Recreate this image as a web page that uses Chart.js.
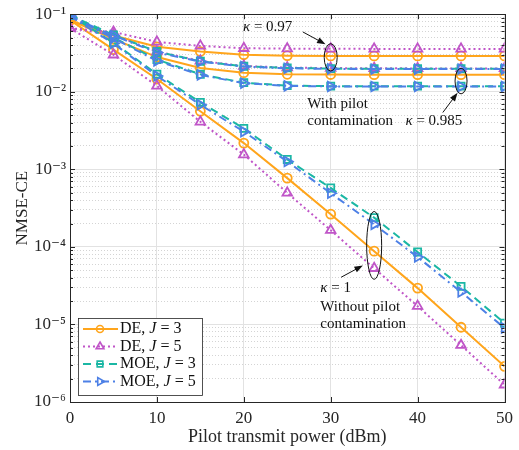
<!DOCTYPE html>
<html>
<head>
<meta charset="utf-8">
<script src="https://cdn.jsdelivr.net/npm/chart.js@4/dist/chart.umd.min.js"></script>
<style>
    body { margin: 0; background: #fff; }
    #wrap { width: 519px; height: 450px; }
</style>
</head>
<body>
<div id="wrap"><canvas id="grafico-nmse" width="519" height="450"></canvas></div>
<script>
// Eixo x - potencia do piloto (dBm)
const potencia = [0, 5, 10, 15, 20, 25, 30, 35, 40, 45, 50];
const ticksX = [0, 10, 20, 30, 40, 50];
const rotulosY = ['10⁻⁶', '10⁻⁵', '10⁻⁴', '10⁻³', '10⁻²', '10⁻¹'];

// kappa = 1 (sem contaminacao de piloto)
const de3K1 = [0.084, 0.035, 0.0146, 0.0056, 0.00218, 0.00077, 0.000264, 0.000088, 0.0000294, 0.0000092, 0.00000288];
const de5K1 = [0.066, 0.030, 0.0119, 0.0041, 0.00155, 0.000497, 0.000164, 0.000053, 0.0000172, 0.0000054, 0.00000167];
const moe3K1 = [0.097, 0.043, 0.0169, 0.0073, 0.00337, 0.00134, 0.000575, 0.000238, 0.000086, 0.0000309, 0.0000104];
const moe5K1 = [0.094, 0.042, 0.0160, 0.0068, 0.00306, 0.00126, 0.000492, 0.000195, 0.000074, 0.0000262, 0.0000090];

// kappa = 0.985
const de3K985 = [0.084, 0.048, 0.028, 0.0203, 0.0176, 0.0168, 0.0167, 0.0166, 0.0166, 0.0166, 0.0166];
const de5K985 = [0.066, 0.054, 0.033, 0.025, 0.0215, 0.0205, 0.0202, 0.0201, 0.0200, 0.0200, 0.0200];
const moe3K985 = [0.097, 0.050, 0.026, 0.0168, 0.0131, 0.0120, 0.0118, 0.0118, 0.0118, 0.0118, 0.0118];
const moe5K985 = [0.094, 0.049, 0.025, 0.0165, 0.0129, 0.0119, 0.0117, 0.0117, 0.0117, 0.0117, 0.0117];

// kappa = 0.97
const de3K97 = [0.084, 0.053, 0.038, 0.033, 0.030, 0.0292, 0.0290, 0.0290, 0.0290, 0.0290, 0.0290];
const de5K97 = [0.066, 0.059, 0.044, 0.039, 0.0364, 0.0360, 0.0358, 0.0357, 0.0357, 0.0357, 0.0357];
const moe3K97 = [0.097, 0.054, 0.033, 0.0247, 0.0213, 0.0203, 0.0199, 0.0198, 0.0198, 0.0198, 0.0198];
const moe5K97 = [0.094, 0.053, 0.032, 0.0245, 0.0211, 0.0201, 0.0197, 0.0196, 0.0196, 0.0196, 0.0196];

// Legenda
const legendaMetodo = ['DE', 'DE', 'MOE', 'MOE'];
const legendaJ = [3, 5, 3, 5];

const fonte = "'Liberation Serif', 'DejaVu Serif', serif";

const estilos = [
    { cor: '#FFA51C', ponto: 'circle', raio: 4.5, rot: 0, traco: [] },
    { cor: '#C055C8', ponto: 'triangle', raio: 5.5, rot: 0, traco: [2, 3] },
    { cor: '#1BB7A4', ponto: 'rect', raio: 5, rot: 0, traco: [8, 5] },
    { cor: '#4D80E6', ponto: 'triangle', raio: 5.5, rot: 90, traco: [8, 4, 2, 4] }
];

function serie(valores, k) {
    const e = estilos[k];
    return {
        data: potencia.map((p, i) => ({ x: p, y: valores[i] })),
        borderColor: e.cor,
        borderWidth: 2,
        borderDash: e.traco,
        pointStyle: e.ponto,
        pointRadius: e.raio,
        pointRotation: e.rot,
        pointBorderWidth: 1.8,
        pointBorderColor: e.cor,
        pointBackgroundColor: 'rgba(255,255,255,0)',
        tension: 0,
        fill: false,
        order: 4 - k
    };
}

function potDez(v) {
    const l = Math.log10(v);
    return Math.abs(l - Math.round(l)) < 1e-9;
}

// texto com partes em italico
function textoRico(ctx, partes, x, y, tam) {
    let cx = x;
    partes.forEach(([t, it]) => {
        ctx.font = (it ? 'italic ' : '') + tam + 'px ' + fonte;
        ctx.fillText(t, cx, y);
        cx += ctx.measureText(t).width;
    });
}

function seta(ctx, x1, y1, x2, y2) {
    const ang = Math.atan2(y2 - y1, x2 - x1);
    ctx.beginPath();
    ctx.moveTo(x1, y1);
    ctx.lineTo(x2 - 6 * Math.cos(ang), y2 - 6 * Math.sin(ang));
    ctx.stroke();
    ctx.beginPath();
    ctx.moveTo(x2, y2);
    ctx.lineTo(x2 - 9 * Math.cos(ang - 0.35), y2 - 9 * Math.sin(ang - 0.35));
    ctx.lineTo(x2 - 9 * Math.cos(ang + 0.35), y2 - 9 * Math.sin(ang + 0.35));
    ctx.closePath();
    ctx.fill();
}

// Caixa, marcas internas, anotacoes e legenda
const extras = {
    id: 'extras',
    afterDatasetsDraw(chart) {
        const { ctx, chartArea: a, scales: { x, y } } = chart;
        ctx.save();
        ctx.strokeStyle = '#262626';
        ctx.lineWidth = 1;
        ctx.setLineDash([]);
        ctx.strokeRect(Math.round(a.left) + 0.5, Math.round(a.top) + 0.5, Math.round(a.right - a.left), Math.round(a.bottom - a.top));

        // marcas internas
        ctx.beginPath();
        y.ticks.forEach(t => {
            const py = Math.round(y.getPixelForValue(t.value)) + 0.5;
            const len = potDez(t.value) ? 5 : 3;
            ctx.moveTo(a.left, py); ctx.lineTo(a.left + len, py);
            ctx.moveTo(a.right, py); ctx.lineTo(a.right - len, py);
        });
        ticksX.forEach(v => {
            const px = Math.round(x.getPixelForValue(v)) + 0.5;
            ctx.moveTo(px, a.bottom); ctx.lineTo(px, a.bottom - 5);
            ctx.moveTo(px, a.top); ctx.lineTo(px, a.top + 5);
        });
        ctx.stroke();

        // anotacoes
        ctx.fillStyle = '#111';
        ctx.strokeStyle = '#111';
        ctx.textBaseline = 'middle';
        ctx.textAlign = 'left';

        const elipse = (xv, y1, y2, rx) => {
            const cx = x.getPixelForValue(xv);
            const p1 = y.getPixelForValue(y1), p2 = y.getPixelForValue(y2);
            ctx.beginPath();
            ctx.ellipse(cx, (p1 + p2) / 2, rx, Math.abs(p2 - p1) / 2, 0, 0, 2 * Math.PI);
            ctx.stroke();
        };
        elipse(30, 0.0417, 0.0185, 6.5);
        elipse(45, 0.0201, 0.0094, 6);
        elipse(35, 2.86e-4, 3.82e-5, 7.5);

        seta(ctx, x.getPixelForValue(26.8), y.getPixelForValue(0.059), x.getPixelForValue(29.4), y.getPixelForValue(0.041));
        seta(ctx, x.getPixelForValue(42.9), y.getPixelForValue(0.0054), x.getPixelForValue(44.6), y.getPixelForValue(0.0097));
        seta(ctx, x.getPixelForValue(31.2), y.getPixelForValue(4.06e-5), x.getPixelForValue(33.7), y.getPixelForValue(5.75e-5));

        textoRico(ctx, [['κ', true], [' = 0.97', false]], x.getPixelForValue(19.9), y.getPixelForValue(0.068), 15);
        textoRico(ctx, [['With pilot', false]], x.getPixelForValue(27.3), y.getPixelForValue(0.0070), 15);
        textoRico(ctx, [['contamination', false]], x.getPixelForValue(27.3), y.getPixelForValue(0.0042), 15);
        textoRico(ctx, [['κ', true], [' = 0.985', false]], x.getPixelForValue(38.6), y.getPixelForValue(0.0042), 15);
        textoRico(ctx, [['κ', true], [' = 1', false]], x.getPixelForValue(28.8), y.getPixelForValue(2.94e-5), 15);
        textoRico(ctx, [['Without pilot', false]], x.getPixelForValue(28.8), y.getPixelForValue(1.69e-5), 15);
        textoRico(ctx, [['contamination', false]], x.getPixelForValue(28.8), y.getPixelForValue(1.0e-5), 15);

        // legenda
        const lx = a.left + 8, ly = a.bottom - 84, lw = 124, lh = 77;
        ctx.fillStyle = '#fff';
        ctx.fillRect(lx, ly, lw, lh);
        ctx.strokeStyle = '#262626';
        ctx.lineWidth = 0.8;
        ctx.strokeRect(lx + 0.5, ly + 0.5, lw, lh);
        estilos.forEach((e, i) => {
            const iy = ly + 11 + i * 17.5;
            ctx.save();
            ctx.strokeStyle = e.cor;
            ctx.lineWidth = 2;
            ctx.setLineDash(e.traco);
            ctx.beginPath();
            ctx.moveTo(lx + 5, iy); ctx.lineTo(lx + 40, iy);
            ctx.stroke();
            ctx.setLineDash([]);
            ctx.lineWidth = 1.6;
            ctx.fillStyle = 'rgba(255,255,255,0)';
            Chart.helpers.drawPoint(ctx, { pointStyle: e.ponto, radius: e.raio - 1, rotation: e.rot, borderWidth: 1.6 }, lx + 22, iy);
            ctx.restore();
            ctx.fillStyle = '#111';
            textoRico(ctx, [[legendaMetodo[i] + ', ', false], ['J', true], [' = ' + legendaJ[i], false]], lx + 42, iy, 16);
        });
        ctx.restore();
    }
};

const dadosNmse = {
    datasets: [
        serie(de3K1, 0), serie(de5K1, 1), serie(moe3K1, 2), serie(moe5K1, 3),
        serie(de3K985, 0), serie(de5K985, 1), serie(moe3K985, 2), serie(moe5K985, 3),
        serie(de3K97, 0), serie(de5K97, 1), serie(moe3K97, 2), serie(moe5K97, 3)
    ]
};

const configNmse = {
    type: 'line',
    data: dadosNmse,
    options: {
        responsive: false,
        animation: false,
        layout: { padding: { top: 7, right: 11, left: 0, bottom: 0 }, autoPadding: false },
        plugins: {
            legend: { display: false },
            tooltip: { enabled: false }
        },
        scales: {
            x: {
                type: 'linear',
                min: 0,
                max: 50,
                afterBuildTicks: (eixo) => { eixo.ticks = ticksX.map(v => ({ value: v })); },
                afterFit: (eixo) => { eixo.height = 48; },
                ticks: { font: { family: fonte, size: 17 }, color: '#262626', padding: 6 },
                grid: { color: '#e2e2e2', lineWidth: 1, drawTicks: false },
                border: { color: '#262626', width: 1 },
                title: {
                    display: true,
                    text: 'Pilot transmit power (dBm)',
                    font: { family: fonte, size: 18 },
                    color: '#262626',
                    padding: { top: 0, bottom: 2 }
                }
            },
            y: {
                type: 'logarithmic',
                min: 1e-6,
                max: 1e-1,
                afterBuildTicks: (eixo) => {
                    const t = [];
                    for (let e = -6; e < -1; e++) {
                        for (let m = 1; m < 10; m++) t.push({ value: m * Math.pow(10, e) });
                    }
                    t.push({ value: 0.1 });
                    eixo.ticks = t;
                },
                afterFit: (eixo) => { eixo.width = 70; },
                ticks: {
                    autoSkip: false,
                    font: { family: fonte, size: 17 },
                    color: '#262626',
                    padding: 4,
                    callback: (v) => potDez(v) ? rotulosY[Math.round(Math.log10(v)) + 6] : ''
                },
                grid: {
                    color: (c) => c.tick && potDez(c.tick.value) ? '#e2e2e2' : '#d4d4d4',
                    lineWidth: 1,
                    drawTicks: false
                },
                border: {
                    color: '#262626',
                    width: 1,
                    dash: (c) => c.tick && !potDez(c.tick.value) ? [1, 2] : []
                },
                title: {
                    display: true,
                    text: 'NMSE-CE',
                    font: { family: fonte, size: 17 },
                    color: '#262626',
                    padding: { top: 12, bottom: 0 }
                }
            }
        }
    },
    plugins: [extras]
};

let graficoNmse = new Chart(document.getElementById('grafico-nmse'), configNmse);
</script>
</body>
</html>
